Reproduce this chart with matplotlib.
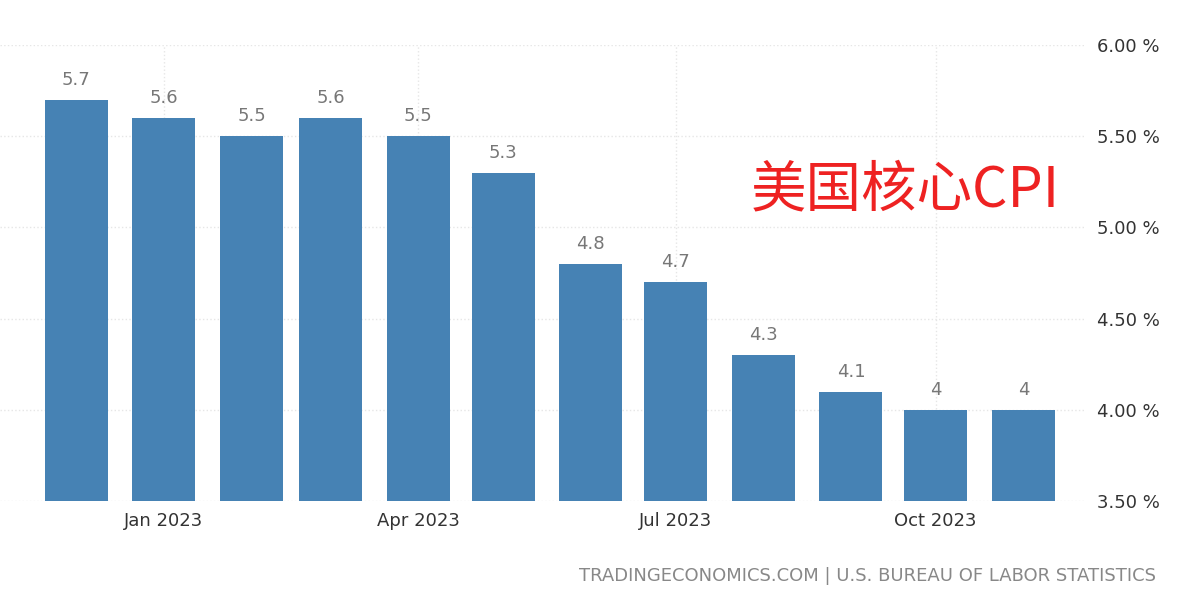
import matplotlib.pyplot as plt
import matplotlib.dates as mdates
import numpy as np
import datetime as dt

months = [dt.date(2022, 12, 1)] + [dt.date(2023, m, 1) for m in range(1, 12)]
values = [5.7, 5.6, 5.5, 5.6, 5.5, 5.3, 4.8, 4.7, 4.3, 4.1, 4, 4]
tick_dates = [dt.date(2023, m, 1) for m in (1, 4, 7, 10)]
tick_labels = ['Jan 2023', 'Apr 2023', 'Jul 2023', 'Oct 2023']
yticks = [3.5, 4.0, 4.5, 5.0, 5.5, 6.0]

plt.rcParams['font.family'] = ['Noto Sans CJK SC', 'DejaVu Sans']
fig = plt.figure(figsize=(11.89, 6), dpi=100)
ax = fig.add_axes([0.0, 0.165, 0.913, 0.76])

ax.bar(months, [v - 3.5 for v in values], bottom=3.5, width=22.3, color='#4682b4', zorder=3)
for d, v in zip(months, values):
    ax.text(d, v + 0.06, f'{v:g}', ha='center', va='bottom', fontsize=13, color='#777777', family='DejaVu Sans')

ax.set_xlim(dt.date(2022, 11, 4), dt.date(2023, 11, 23))
ax.set_ylim(3.5, 6.0)
ax.set_xticks(tick_dates)
ax.set_xticklabels(tick_labels, fontsize=13, color='#333333', family='DejaVu Sans')
ax.yaxis.tick_right()
ax.set_yticks(yticks)
ax.set_yticklabels([f'{y:.2f} %' for y in yticks], fontsize=13, color='#333333', family='DejaVu Sans')
ax.tick_params(length=0, pad=8)
ax.grid(True, color='#e6e6e6', linestyle=':', linewidth=1, zorder=0)
for s in ax.spines.values():
    s.set_visible(False)

fig.text(0.761, 0.683, '美国核心CPI', color='#ee2222', fontsize=40, ha='center', va='center')
fig.text(0.972, 0.04, 'TRADINGECONOMICS.COM | U.S. BUREAU OF LABOR STATISTICS',
         ha='right', va='center', fontsize=13, color='#888888', family='DejaVu Sans')

fig.savefig('out.png', dpi=100)
plt.close()
